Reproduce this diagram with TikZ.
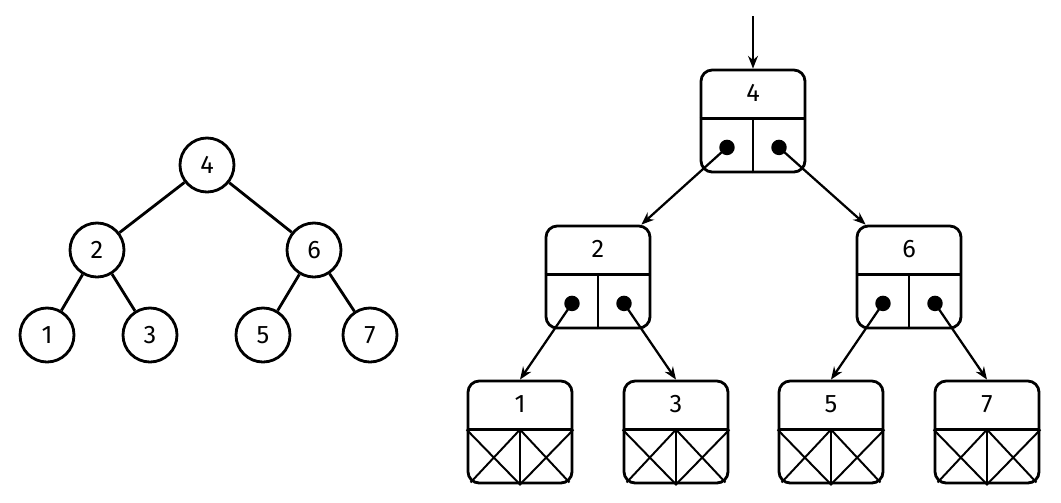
\documentclass[tikz,border=0pt]{standalone}
\usepackage{fontspec}
\setmainfont{Fira Sans}
\usetikzlibrary{arrows.meta}
\tikzset{
  vtx/.style={circle,draw,line width=2pt,minimum size=1.35cm,inner sep=0pt,font=\fontsize{18}{20}\selectfont},
  box/.style={draw,line width=2pt,rounded corners=8pt,minimum width=2.6cm,minimum height=2.55cm,inner sep=0pt},
  ptr/.style={-{Stealth[length=9pt,width=7pt]},line width=1.6pt},
}
% box with value on top and two pointer cells below
\newcommand{\tnode}[4]{%
  \node[box] (#1) at (#2,#3) {};
  \draw[line width=2pt] ([yshift=-1.25cm]#1.north west) -- ([yshift=-1.25cm]#1.north east)
    (#1.south) -- ([yshift=-1.25cm]#1.north);
  \node[font=\fontsize{18}{20}\selectfont] at ([yshift=-0.62cm]#1.north) {#4};
  \coordinate (#1l) at ([xshift=-0.65cm,yshift=0.65cm]#1.south);
  \coordinate (#1r) at ([xshift=0.65cm,yshift=0.65cm]#1.south);
}
\newcommand{\leaf}[4]{%
  \tnode{#1}{#2}{#3}{#4}
  \draw[line width=1.4pt] ([yshift=-1.25cm]#1.north west) -- (#1.south)
    -- ([yshift=-1.25cm]#1.north east)
    ([yshift=-1.25cm]#1.north) -- ([xshift=0.1cm,yshift=0.05cm]#1.south west)
    ([yshift=-1.25cm]#1.north) -- ([xshift=-0.1cm,yshift=0.05cm]#1.south east);
}
\begin{document}
\begin{tikzpicture}[x=0.025cm,y=-0.025cm]
  \useasboundingbox (0,0) rectangle (1061,502);
  % left tree
  \node[vtx] (a4) at (207,165) {4};
  \node[vtx] (a2) at (97,250) {2};
  \node[vtx] (a6) at (314,250) {6};
  \node[vtx] (a1) at (47,335) {1};
  \node[vtx] (a3) at (150,335) {3};
  \node[vtx] (a5) at (263,335) {5};
  \node[vtx] (a7) at (370,335) {7};
  \begin{scope}[line width=2pt]
    \draw (a4) -- (a2);
    \draw (a4) -- (a6);
    \draw (a2) -- (a1);
    \draw (a2) -- (a3);
    \draw (a6) -- (a5);
    \draw (a6) -- (a7);
  \end{scope}
  % right tree
  \tnode{b4}{753}{121}{4}
  \tnode{b2}{598}{277}{2}
  \tnode{b6}{909}{277}{6}
  \leaf{b1}{520}{432}{1}
  \leaf{b3}{676}{432}{3}
  \leaf{b5}{831}{432}{5}
  \leaf{b7}{987}{432}{7}
  \coordinate (top) at (753,16);
  \foreach \p in {b4l,b4r,b2l,b2r,b6l,b6r}
    \fill (\p) circle (5.5pt);
  \draw[ptr] (top) -- (b4.north);
  \draw[ptr] (b4l) -- ([xshift=-0.25cm]b2.north east);
  \draw[ptr] (b4r) -- ([xshift=0.25cm]b6.north west);
  \draw[ptr] (b2l) -- (b1.north);
  \draw[ptr] (b2r) -- (b3.north);
  \draw[ptr] (b6l) -- (b5.north);
  \draw[ptr] (b6r) -- (b7.north);
\end{tikzpicture}
\end{document}
